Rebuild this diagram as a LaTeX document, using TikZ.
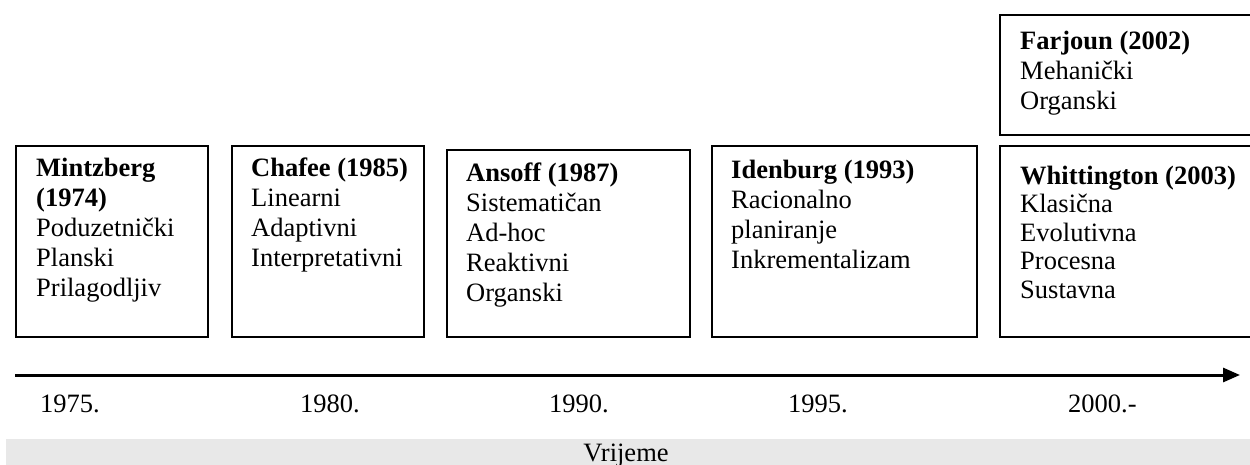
\documentclass[tikz,border=0pt]{standalone}
\usepackage{fontspec}
\setmainfont{Liberation Serif}
\usetikzlibrary{arrows.meta}
\begin{document}
\begin{tikzpicture}[x=1pt,y=-1pt,
  frame/.style={draw, line width=2pt, inner sep=0pt, anchor=north west},
  lbl/.style={font=\fontsize{26.5}{30}\selectfont, align=left, inner sep=0pt, anchor=base west},
  yr/.style={font=\fontsize{26.5}{30}\selectfont, inner sep=0pt, anchor=base west},
  axis/.style={line width=3pt, -{Triangle[length=17pt,width=14pt]}}]
\useasboundingbox (0,0) rectangle (1250,465);
% boxes
\node[frame, minimum width=253pt, minimum height=120pt] (bf) at (999,14) {};
\node[frame, minimum width=192pt, minimum height=191pt] (b1) at (15,145) {};
\node[frame, minimum width=192pt, minimum height=191pt] (b2) at (231,145) {};
\node[frame, minimum width=243pt, minimum height=187pt] (b3) at (446,149) {};
\node[frame, minimum width=265pt, minimum height=191pt] (b4) at (711,145) {};
\node[frame, minimum width=253pt, minimum height=191pt] (b5) at (999,145) {};
% texts (base anchor = baseline of the last line)
\node[lbl] (tf) at ([xshift=21pt,yshift=-96pt]bf.north west) {\textbf{Farjoun (2002)}\\Mehanički\\Organski};
\node[lbl] (t1) at ([xshift=21pt,yshift=-151pt]b1.north west) {\textbf{Mintzberg}\\\textbf{(1974)}\\Poduzetnički\\Planski\\Prilagodljiv};
\node[lbl] (t2) at ([xshift=20pt,yshift=-121pt]b2.north west) {\textbf{Chafee (1985)}\\Linearni\\Adaptivni\\Interpretativni};
\node[lbl] (t3) at ([xshift=20pt,yshift=-152pt]b3.north west) {\textbf{Ansoff (1987)}\\Sistematičan\\Ad-hoc\\Reaktivni\\Organski};
\node[lbl] (t4) at ([xshift=20pt,yshift=-123pt]b4.north west) {\textbf{Idenburg (1993)}\\Racionalno\\planiranje\\Inkrementalizam};
\node[lbl, font=\fontsize{26.5}{28.5}\selectfont] (t5) at ([xshift=21pt,yshift=-153pt]b5.north west) {\textbf{Whittington (2003)}\\Klasična\\Evolutivna\\Procesna\\Sustavna};
% axis
\coordinate (as) at (15,375);
\coordinate (ae) at (1240,375);
\draw[axis] (as) -- (ae);
\node[yr] (y1) at (40,412) {1975.};
\node[yr] (y2) at (300,412) {1980.};
\node[yr] (y3) at (549,412) {1990.};
\node[yr] (y4) at (788,412) {1995.};
\node[yr] (y5) at (1068,412) {2000.-};
% time bar
\fill[fill={rgb,255:red,232;green,232;blue,232}] (6,439) rectangle (1250,465);
\node[yr, anchor=base] (vr) at (626,461) {Vrijeme};
\end{tikzpicture}
\end{document}
